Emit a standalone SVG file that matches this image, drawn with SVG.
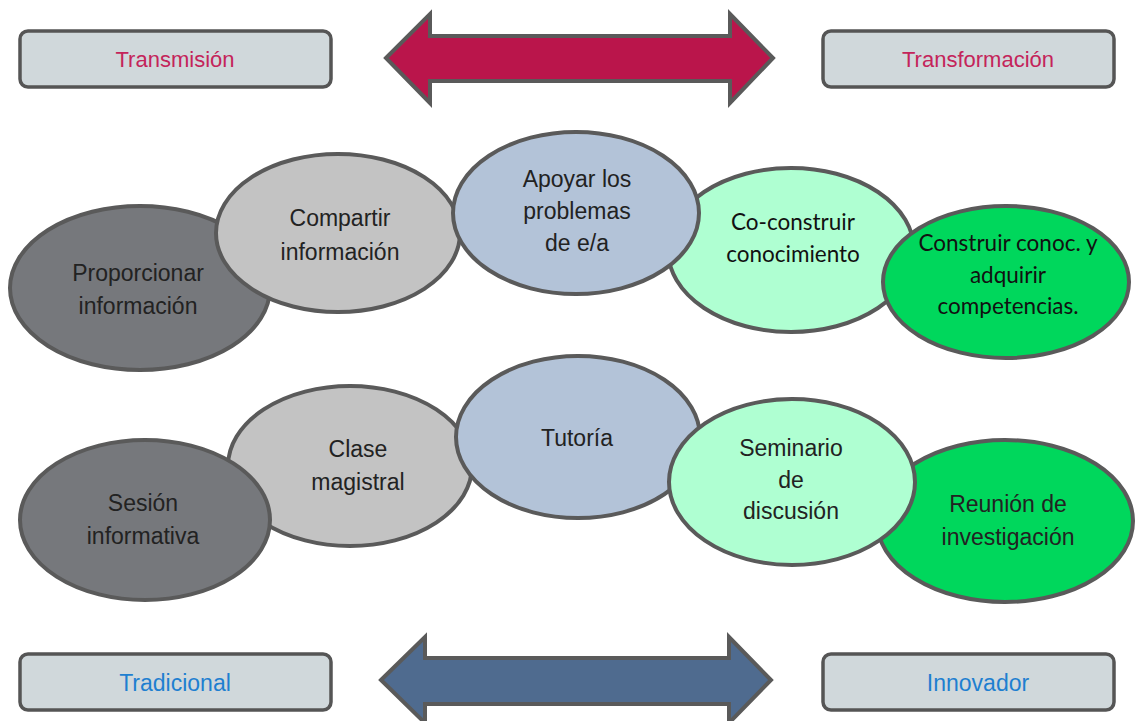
<svg xmlns="http://www.w3.org/2000/svg" width="1136" height="721" viewBox="0 0 1136 721">
<style>
.box{fill:#D0D8DB;stroke:#555;stroke-width:3.5}
.el{stroke:#5a5a5a;stroke-width:4}
.arr{stroke:#5a5a5a;stroke-width:4;stroke-linejoin:miter}
.lbl{font-family:"Liberation Sans",Arial,sans-serif;font-size:22px;text-anchor:middle}
.lb2{font-family:"Liberation Sans",Arial,sans-serif;font-size:23px;text-anchor:middle}
.t{font-family:"Liberation Sans",Arial,sans-serif;font-size:23px;text-anchor:middle;fill:#222}
.c{font-family:Lato,"Liberation Sans",sans-serif;font-size:22.5px;text-anchor:middle;fill:#111}
</style>
<rect width="1136" height="721" fill="#fff"/>
<g id="connectors">
<polygon class="arr" fill="#BA154B" points="386,58 430,14 430,36 730,36 730,14 773,58 730,103 730,81 430,81 430,103"/>
<polygon class="arr" fill="#4F6B8F" points="381,680 425,637 425,658 729,658 729,637 771,680 729,723 729,704 425,704 425,723"/>
</g>
<g id="transmision"><rect class="box" x="20" y="31" width="311" height="56" rx="8"/><text class="lbl" x="175" y="67" fill="#C4245A">Transmisión</text></g>
<g id="transformacion"><rect class="box" x="823" y="31" width="291" height="56" rx="8"/><text class="lbl" x="978" y="67" fill="#C4245A">Transformación</text></g>
<g id="tradicional"><rect class="box" x="20" y="654" width="311" height="56" rx="8"/><text class="lb2" x="175" y="691" fill="#1E7FD0">Tradicional</text></g>
<g id="innovador"><rect class="box" x="823" y="654" width="291" height="56" rx="8"/><text class="lb2" x="978" y="691" fill="#1E7FD0">Innovador</text></g>

<g id="proporcionar"><ellipse class="el" fill="#76787C" cx="140" cy="288" rx="130" ry="82"/><text class="t" x="138" y="281">Proporcionar</text><text class="t" x="138" y="314">información</text></g>
<g id="compartir"><ellipse class="el" fill="#C3C3C3" cx="338" cy="233" rx="122" ry="79"/><text class="t" x="340" y="226">Compartir</text><text class="t" x="340" y="260">información</text></g>
<g id="coconstruir"><ellipse class="el" fill="#AFFFD2" cx="791" cy="250" rx="123" ry="82"/><text class="c" x="793" y="230">Co-construir</text><text class="c" x="793" y="262">conocimiento</text></g>
<g id="apoyar"><ellipse class="el" fill="#B3C3D8" cx="576" cy="213" rx="123" ry="81"/><text class="t" x="577" y="187">Apoyar los</text><text class="t" x="577" y="219">problemas</text><text class="t" x="577" y="251">de e/a</text></g>
<g id="construir"><ellipse class="el" fill="#00D75C" cx="1006" cy="282" rx="123" ry="76"/><text class="c" x="1008" y="251">Construir conoc. y</text><text class="c" x="1008" y="283">adquirir</text><text class="c" x="1008" y="314">competencias.</text></g>

<g id="clase"><ellipse class="el" fill="#C3C3C3" cx="350" cy="466" rx="122" ry="80"/><text class="t" x="358" y="457">Clase</text><text class="t" x="358" y="490">magistral</text></g>
<g id="sesion"><ellipse class="el" fill="#76787C" cx="145" cy="520" rx="125" ry="80"/><text class="t" x="143" y="511">Sesión</text><text class="t" x="143" y="544">informativa</text></g>
<g id="tutoria"><ellipse class="el" fill="#B3C3D8" cx="578" cy="437" rx="122" ry="81"/><text class="t" x="577" y="446">Tutoría</text></g>
<g id="reunion"><ellipse class="el" fill="#00D75C" cx="1005" cy="521" rx="128" ry="81"/><text class="t" x="1008" y="512">Reunión de</text><text class="t" x="1008" y="545">investigación</text></g>
<g id="seminario"><ellipse class="el" fill="#AFFFD2" cx="792" cy="482" rx="123" ry="83"/><text class="t" x="791" y="456">Seminario</text><text class="t" x="791" y="488">de</text><text class="t" x="791" y="519">discusión</text></g>
</svg>
